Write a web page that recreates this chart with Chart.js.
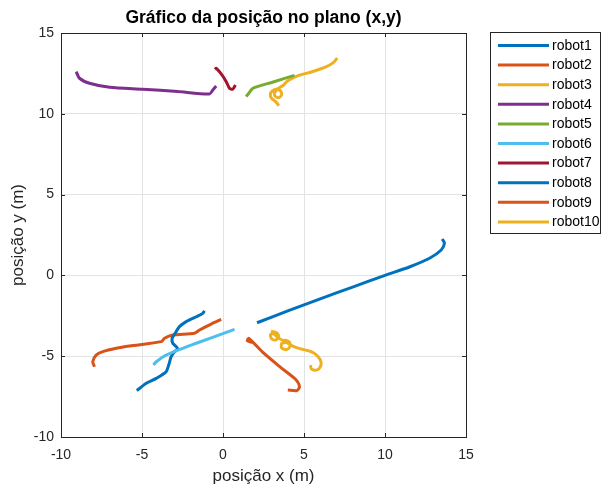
<!DOCTYPE html>
<html>
<head>
<meta charset="utf-8">
<script src="https://cdn.jsdelivr.net/npm/chart.js@4"></script>
<style>
  html, body { margin: 0; padding: 0; background: #fff; }
</style>
</head>
<body>
<canvas id="chart" width="602" height="488"></canvas>
<script>
// trajectories (x, y in metres)
const robot1X = [2.1, 4.0, 6.0, 8.0, 10.0, 11.5, 12.75, 13.47, 13.67, 13.53];
const robot1Y = [-2.93, -2.2, -1.45, -0.72, 0.0, 0.52, 1.06, 1.57, 1.99, 2.25];
const robot2X = [1.8, 1.5, 1.6, 2.5, 3.5, 4.52, 4.72, 4.56, 4.0];
const robot2Y = [-4.15, -4.05, -3.9, -4.8, -5.65, -6.47, -6.89, -7.13, -7.09];
const robot3X = [2.95, 3.1, 3.35, 3.44, 3.25, 3.0, 2.93, 3.1, 3.4, 3.7, 3.9, 4.12, 4.12, 3.9, 3.62, 3.62, 3.9, 4.3, 4.8, 5.44, 5.85, 6.06, 5.95, 5.7, 5.45, 5.4];
const robot3Y = [-3.5, -3.48, -3.58, -3.82, -4.0, -3.92, -3.68, -3.6, -3.85, -4.02, -4.02, -4.15, -4.42, -4.6, -4.48, -4.22, -4.15, -4.38, -4.55, -4.72, -5.0, -5.4, -5.75, -5.87, -5.78, -5.55];
const robot4X = [-9.06, -8.86, -8.24, -7.0, -4.95, -2.8, -0.83, -0.63, -0.42];
const robot4Y = [12.61, 12.2, 11.89, 11.64, 11.52, 11.38, 11.23, 11.47, 11.72];
const robot5X = [1.43, 1.59, 1.84, 3.1, 4.41];
const robot5Y = [11.06, 11.27, 11.58, 11.97, 12.38];
const robot6X = [-4.29, -4.12, -3.51, -1.65, 0.71];
const robot6Y = [-5.54, -5.34, -4.93, -4.2, -3.34];
const robot7X = [-0.5, -0.42, -0.1, 0.2, 0.4, 0.6, 0.77];
const robot7Y = [12.75, 12.82, 12.45, 11.99, 11.58, 11.52, 11.78];
const robot8X = [-5.32, -4.74, -4.12, -3.51, -3.35, -3.2, -2.99, -2.79, -2.89, -3.1, -3.14, -2.89, -2.69, -2.27, -1.65, -1.25, -1.14];
const robot8Y = [-7.13, -6.68, -6.37, -5.96, -5.54, -5.03, -4.72, -4.57, -4.41, -4.2, -3.89, -3.48, -3.17, -2.86, -2.56, -2.35, -2.19];
const robot9X = [-7.93, -8.04, -7.83, -7.42, -6.59, -5.77, -3.81, -3.61, -3.1, -1.76, -1.45, -0.73, -0.11];
const robot9Y = [-5.65, -5.34, -4.93, -4.72, -4.51, -4.37, -4.1, -3.89, -3.69, -3.58, -3.38, -3.01, -2.72];
const robot10X = [3.45, 3.25, 3.0, 2.92, 3.05, 3.3, 3.55, 3.62, 3.45, 3.22, 3.18, 3.4, 3.7, 4.0, 4.6, 5.5, 6.35, 6.85, 7.05];
const robot10Y = [10.5, 10.75, 10.95, 11.2, 11.42, 11.52, 11.42, 11.18, 11.0, 11.08, 11.3, 11.55, 11.75, 12.05, 12.35, 12.6, 12.9, 13.2, 13.45];

const robotNames = ['robot1', 'robot2', 'robot3', 'robot4', 'robot5', 'robot6', 'robot7', 'robot8', 'robot9', 'robot10'];
const robotColors = ['#0072BD', '#D95319', '#EDB120', '#7E2F8E', '#77AC30', '#4DBEEE', '#A2142F', '#0072BD', '#D95319', '#EDB120'];
const xs = [robot1X, robot2X, robot3X, robot4X, robot5X, robot6X, robot7X, robot8X, robot9X, robot10X];
const ys = [robot1Y, robot2Y, robot3Y, robot4Y, robot5Y, robot6Y, robot7Y, robot8Y, robot9Y, robot10Y];

const tickValues = [-10, -5, 0, 5, 10, 15];
const FONT = "'Liberation Sans', Arial, Helvetica, sans-serif";
const AXIS_COLOR = '#262626';

const datasets = robotNames.map((name, i) => ({
  label: name,
  data: xs[i].map((x, k) => ({ x: x, y: ys[i][k] })),
  borderColor: robotColors[i],
  backgroundColor: robotColors[i],
  borderWidth: 3,
  showLine: true,
  pointRadius: 0,
  tension: 0.25,
}));

// box around the axes with inward ticks, like matlab
const boxPlugin = {
  id: 'boxPlugin',
  afterDraw(chart) {
    const { ctx, chartArea: a, scales } = chart;
    ctx.save();
    ctx.strokeStyle = AXIS_COLOR;
    ctx.lineWidth = 1;
    ctx.beginPath();
    tickValues.forEach((v) => {
      const px = Math.round(scales.x.getPixelForValue(v)) + 0.5;
      ctx.moveTo(px, a.bottom); ctx.lineTo(px, a.bottom - 4);
      ctx.moveTo(px, a.top); ctx.lineTo(px, a.top + 4);
      const py = Math.round(scales.y.getPixelForValue(v)) + 0.5;
      ctx.moveTo(a.left, py); ctx.lineTo(a.left + 4, py);
      ctx.moveTo(a.right, py); ctx.lineTo(a.right - 4, py);
    });
    ctx.stroke();
    ctx.strokeRect(Math.round(a.left) + 0.5, Math.round(a.top) + 0.5,
      Math.round(a.right - a.left), Math.round(a.bottom - a.top));
    ctx.restore();
  }
};

// legend box on the right
const legendPlugin = {
  id: 'legendPlugin',
  afterDraw(chart) {
    const ctx = chart.ctx;
    const left = 490.5, top = 32.5, w = 110, h = 201;
    ctx.save();
    ctx.fillStyle = '#fff';
    ctx.fillRect(left, top, w, h);
    ctx.strokeStyle = AXIS_COLOR;
    ctx.lineWidth = 1;
    ctx.strokeRect(left, top, w, h);
    ctx.font = '14px ' + FONT;
    ctx.textBaseline = 'middle';
    chart.data.datasets.forEach((ds, i) => {
      const y = 45.5 + i * 19.6;
      ctx.strokeStyle = ds.borderColor;
      ctx.lineWidth = 3;
      ctx.beginPath();
      ctx.moveTo(498, y);
      ctx.lineTo(549, y);
      ctx.stroke();
      ctx.fillStyle = '#000';
      ctx.fillText(ds.label, 552, y + 0.5);
    });
    ctx.restore();
  }
};

const chartConfig = {
  type: 'scatter',
  data: { datasets: datasets },
  options: {
    responsive: false,
    animation: false,
    layout: { padding: { left: 0, right: 136, top: 0, bottom: 0 } },
    plugins: {
      legend: { display: false },
      tooltip: { enabled: false },
      title: {
        display: true,
        fullSize: false,
        text: 'Gráfico da posição no plano (x,y)',
        color: '#000',
        font: { family: FONT, size: 17.5, weight: 'bold' },
        padding: { top: 8, bottom: 4 },
      },
    },
    scales: {
      x: {
        type: 'linear',
        min: -10,
        max: 15,
        afterFit: (s) => { s.height = 51; },
        ticks: {
          stepSize: 5,
          padding: 10,
          color: AXIS_COLOR,
          font: { family: FONT, size: 14 },
          maxRotation: 0,
        },
        grid: { color: '#e3e3e3', drawTicks: false },
        border: { display: false },
        title: {
          display: true,
          text: 'posição x (m)',
          color: AXIS_COLOR,
          font: { family: FONT, size: 17 },
          padding: { top: 0, bottom: 1 },
        },
      },
      y: {
        type: 'linear',
        min: -10,
        max: 15,
        afterFit: (s) => { s.width = 61; },
        ticks: {
          stepSize: 5,
          padding: 7,
          color: AXIS_COLOR,
          font: { family: FONT, size: 14 },
        },
        grid: { color: '#e3e3e3', drawTicks: false },
        border: { display: false },
        title: {
          display: true,
          text: 'posição y (m)',
          color: AXIS_COLOR,
          font: { family: FONT, size: 17 },
          padding: { top: 8, bottom: 0 },
        },
      },
    },
  },
  plugins: [boxPlugin, legendPlugin],
};

const myChart = new Chart(document.getElementById('chart'), chartConfig);
</script>
</body>
</html>
